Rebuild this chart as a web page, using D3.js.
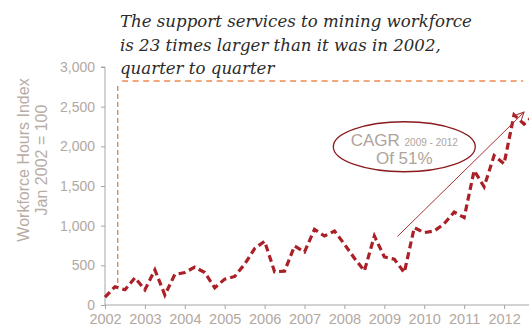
<!DOCTYPE html>
<html>
<head>
<meta charset="utf-8">
<script src="https://cdn.jsdelivr.net/npm/d3@7"></script>
<style>
  body { margin: 0; background: #fff; }
  svg { display: block; }
  .tick text { font-family: 'Liberation Sans', Arial, sans-serif; fill: #b3a89f; }
  .title { font-family: 'DejaVu Serif', serif; font-style: italic; font-size: 16.6px; fill: #2b2b2b; }
  .ylabel { font-family: 'Liberation Sans', Arial, sans-serif; font-size: 16px; fill: #b8ada5; }
  .cagr { font-family: 'Liberation Sans', Arial, sans-serif; fill: #aea49c; }
</style>
</head>
<body>
<div id="chart"></div>
<script>
// quarterly workforce hours index, Q1 2002 .. Q4 2012
const quarters = [
  2002, 2002.25, 2002.5, 2002.75,
  2003, 2003.25, 2003.5, 2003.75,
  2004, 2004.25, 2004.5, 2004.75,
  2005, 2005.25, 2005.5, 2005.75,
  2006, 2006.25, 2006.5, 2006.75,
  2007, 2007.25, 2007.5, 2007.75,
  2008, 2008.25, 2008.5, 2008.75,
  2009, 2009.25, 2009.5, 2009.75,
  2010, 2010.25, 2010.5, 2010.75,
  2011, 2011.25, 2011.5, 2011.75,
  2012, 2012.25, 2012.5, 2012.75
];
const hoursIndex = [
  100, 230, 192, 343,
  192, 443, 126, 385,
  410, 477, 410, 217,
  326, 360, 515, 712,
  803, 418, 427, 744,
  669, 954, 870, 933,
  766, 590, 430, 870,
  606, 577, 410, 975,
  912, 933, 1025, 1171,
  1101, 1695, 1490, 1883,
  1779, 2397, 2281, 2390
];
const yearTicks = [2002, 2003, 2004, 2005, 2006, 2007, 2008, 2009, 2010, 2011, 2012];
const valueTicks = [0, 500, 1000, 1500, 2000, 2500, 3000];
const titleLines = [
  "The support services to mining workforce",
  "is 23 times larger than it was in 2002,",
  "quarter to quarter"
];
const yLabelLines = ["Workforce Hours Index", "Jan 2002 = 100"];

// reference lines (2002 start vs 23x level) and CAGR arrow, in data units
const startMarker = {x: 2002.32, y0: 226, y1: 2760};
const levelLine = {x0: 2002.43, x1: 2012.48, y: 2825};
const cagrArrow = {x0: 2009.33, y0: 865, x1: 2012.5, y1: 2430};
const cagrBubble = {x: 2009.5, y: 1995};

const width = 529, height = 329;
const margin = {top: 67, right: 0, bottom: 24, left: 105};

const svg = d3.select("#chart").append("svg")
  .attr("width", width).attr("height", height);

const x = d3.scaleLinear().domain([2002, 2012.625]).range([margin.left, width - margin.right]);
const y = d3.scaleLinear().domain([0, 3000]).range([height - margin.bottom, margin.top]);

// title
svg.append("text").attr("class", "title")
  .attr("x", 120).attr("y", 27)
  .selectAll("tspan").data(titleLines).join("tspan")
  .attr("x", 120).attr("dy", (d, i) => i === 0 ? 0 : 23.5)
  .text(d => d);

// y axis
const yAxis = svg.append("g")
  .attr("transform", `translate(${margin.left},0)`)
  .call(d3.axisLeft(y).tickValues(valueTicks).tickFormat(d3.format(",")).tickSize(4).tickPadding(6));
yAxis.select(".domain").attr("stroke", "#a6a6a6").attr("d", `M-4,${y(3000)}H0V${y(0)}`);
yAxis.selectAll(".tick line").attr("stroke", "#a6a6a6");
yAxis.selectAll(".tick text").attr("font-size", 14);

// x axis
const xAxis = svg.append("g")
  .attr("transform", `translate(0,${y(0)})`)
  .call(d3.axisBottom(x).tickValues(yearTicks).tickFormat(d3.format("d")).tickSize(4).tickPadding(5));
xAxis.select(".domain").attr("stroke", "#a6a6a6").attr("d", `M${x(2002)},0H${width}`);
xAxis.selectAll(".tick line").attr("stroke", "#a6a6a6");
xAxis.selectAll(".tick text").attr("font-size", 14.5);

// y label
const yl = svg.append("text").attr("class", "ylabel")
  .attr("transform", `translate(29,160) rotate(-90)`)
  .attr("text-anchor", "middle");
yl.selectAll("tspan").data(yLabelLines).join("tspan")
  .attr("x", 0).attr("dy", (d, i) => i === 0 ? 0 : 18)
  .text(d => d);

// reference lines
svg.append("line")
  .attr("x1", x(levelLine.x0)).attr("x2", x(levelLine.x1))
  .attr("y1", y(levelLine.y)).attr("y2", y(levelLine.y))
  .attr("stroke", "#f2a77a").attr("stroke-width", 2).attr("stroke-dasharray", "6,4.5");
svg.append("line")
  .attr("x1", x(startMarker.x)).attr("x2", x(startMarker.x))
  .attr("y1", y(startMarker.y1)).attr("y2", y(startMarker.y0))
  .attr("stroke", "#d2783c").attr("stroke-width", 1.2).attr("stroke-dasharray", "5,3");

// data line
const line = d3.line().x((d, i) => x(quarters[i])).y(d => y(d));
svg.append("path")
  .datum(hoursIndex)
  .attr("d", line)
  .attr("fill", "none")
  .attr("stroke", "#ab1f27")
  .attr("stroke-width", 3.2)
  .attr("stroke-dasharray", "7,4");

// CAGR arrow
const defs = svg.append("defs");
defs.append("marker").attr("id", "arrowhead")
  .attr("viewBox", "0 0 10 10").attr("refX", 9).attr("refY", 5)
  .attr("markerWidth", 9).attr("markerHeight", 9)
  .attr("markerUnits", "userSpaceOnUse").attr("orient", "auto")
  .append("path").attr("d", "M1,1L9,5L1,9")
  .attr("fill", "none").attr("stroke", "#a83236").attr("stroke-width", 1.2);
svg.append("line")
  .attr("x1", x(cagrArrow.x0)).attr("y1", y(cagrArrow.y0))
  .attr("x2", x(cagrArrow.x1)).attr("y2", y(cagrArrow.y1))
  .attr("stroke", "#a83236").attr("stroke-width", 1)
  .attr("marker-end", "url(#arrowhead)");

// CAGR bubble
const cx = x(cagrBubble.x), cy = y(cagrBubble.y);
svg.append("ellipse")
  .attr("cx", cx).attr("cy", cy).attr("rx", 71).attr("ry", 25)
  .attr("fill", "none").attr("stroke", "#8a1a1e").attr("stroke-width", 1.3);
const t1 = svg.append("text").attr("class", "cagr")
  .attr("x", cx).attr("y", cy - 1).attr("text-anchor", "middle");
t1.append("tspan").attr("font-size", 17).text("CAGR ");
t1.append("tspan").attr("font-size", 10).text("2009 - 2012");
svg.append("text").attr("class", "cagr")
  .attr("x", cx).attr("y", cy + 17).attr("text-anchor", "middle")
  .attr("font-size", 17).text("Of 51%");
</script>
</body>
</html>
